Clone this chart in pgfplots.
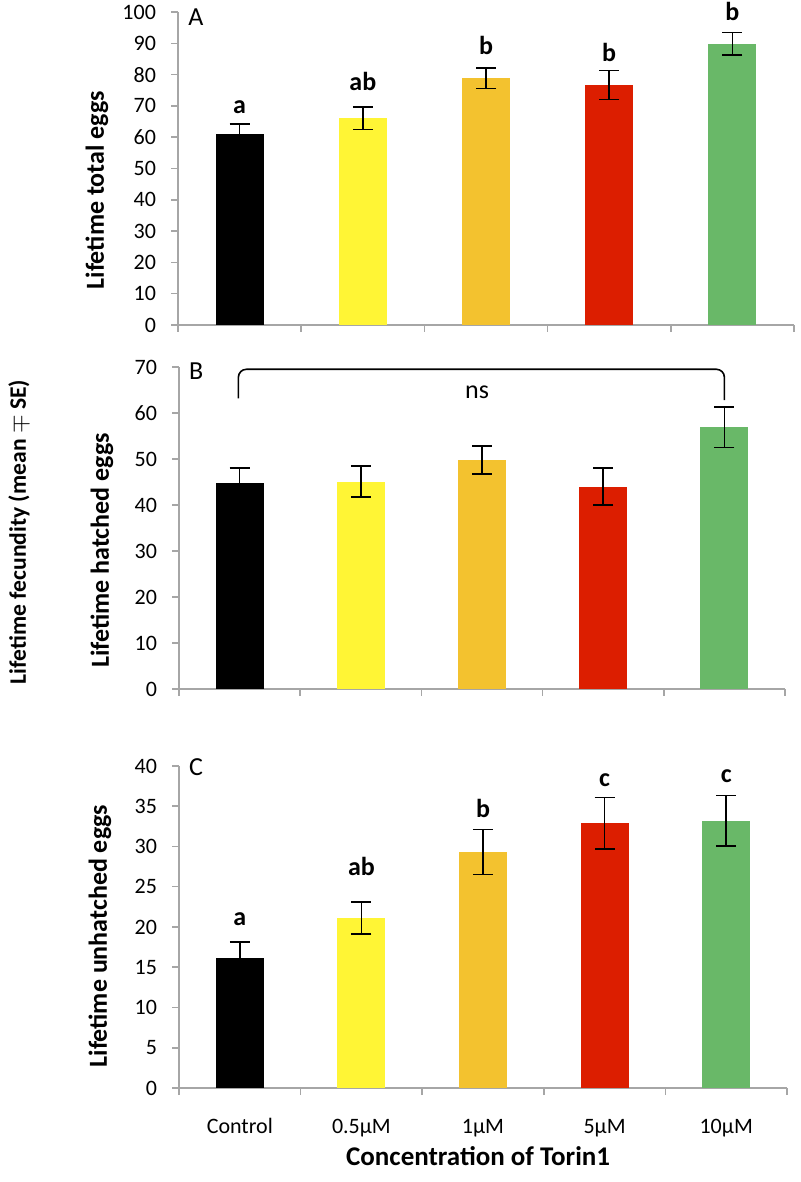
\documentclass[border=0pt]{standalone}
\usepackage{fontspec}
\setmainfont{Carlito}
\usepackage{pgfplots}
\pgfplotsset{compat=1.18}
\definecolor{axgray}{HTML}{A6A6A6}
\definecolor{cblack}{HTML}{000000}
\definecolor{cyellow}{HTML}{FFF535}
\definecolor{cgold}{HTML}{F3C22F}
\definecolor{cred}{HTML}{DC1E00}
\definecolor{cgreen}{HTML}{69B868}
\newcommand{\lab}{\bfseries\fontsize{13}{15}\selectfont}
\newcommand{\reg}{\fontsize{13}{15}\selectfont}
\pgfplotsset{
  panel/.style={
    scale only axis, ybar, bar shift=0pt, bar width=24pt,
    xmin=-0.5, xmax=4.5, ymin=0,
    axis x line=bottom, axis y line=left,
    axis line style={draw=axgray, line width=0.75pt, -},
    tick style={draw=axgray, line width=0.75pt},
    tick align=outside, major tick length=3.5pt,
    xtick={-0.5,0.5,1.5,2.5,3.5,4.5}, xticklabels={,,,,,},
    /pgf/number format/assume math mode=true,
    tick label style={font=\fontsize{11}{13}\selectfont},
    yticklabel style={xshift=-4pt},
    clip=false,
  },
  ylab/.style={every axis y label/.style={at={(axis description cs:#1)}, rotate=90, anchor=center, font=\lab}},
  ebar/.style={draw=none, error bars/.cd, y dir=both, y explicit,
    error bar style={line width=0.8pt, black},
    error mark options={rotate=90, mark size=5pt, line width=0.8pt, black}, /pgfplots/.cd},
}
\begin{document}
\begin{tikzpicture}[x=1pt,y=1pt]
\useasboundingbox (0,0) rectangle (400,591);
% Panel A
\begin{axis}[panel, at={(89pt,428.5pt)}, anchor=south west,
  width=308pt, height=156.5pt, ymax=100, ytick={0,10,...,100},
  ylabel={Lifetime total eggs}, ylab={-0.1315,0.431}]
\addplot[fill=cblack, ebar] coordinates {(0,61.0) +- (0,3.2)};
\addplot[fill=cyellow, ebar] coordinates {(1,66.0) +- (0,3.6)};
\addplot[fill=cgold, ebar] coordinates {(2,78.8) +- (0,3.3)};
\addplot[fill=cred, ebar] coordinates {(3,76.7) +- (0,4.6)};
\addplot[fill=cgreen, ebar] coordinates {(4,89.9) +- (0,3.6)};
\node[anchor=base, font=\lab] at (axis cs:0,67.7) {a};
\node[anchor=base, font=\lab] at (axis cs:1,74.9) {ab};
\node[anchor=base, font=\lab] at (axis cs:2,86.3) {b};
\node[anchor=base, font=\lab] at (axis cs:3,84.1) {b};
\node[anchor=base, font=\lab] at (axis cs:4,97.2) {b};
\node[anchor=base west, font=\reg, inner sep=0pt] at (axis cs:-0.42,95.8) {A};
\end{axis}
% Panel B
\begin{axis}[panel, at={(89.5pt,246.5pt)}, anchor=south west,
  width=303pt, height=161pt, ymax=70, ytick={0,10,...,70},
  ylabel={Lifetime hatched eggs}, ylab={-0.127,0.43}]
\addplot[fill=cblack, ebar] coordinates {(0,44.8) +- (0,3.2)};
\addplot[fill=cyellow, ebar] coordinates {(1,45.1) +- (0,3.4)};
\addplot[fill=cgold, ebar] coordinates {(2,49.8) +- (0,3.0)};
\addplot[fill=cred, ebar] coordinates {(3,44.0) +- (0,4.0)};
\addplot[fill=cgreen, ebar] coordinates {(4,56.9) +- (0,4.4)};
\draw[line width=0.8pt, rounded corners=4pt] (axis cs:-0.01,63.2) -- (axis cs:-0.01,69.5) -- (axis cs:4,69.5) -- (axis cs:4,62.8);
\node[anchor=base, font=\reg] at (axis cs:1.96,63.2) {ns};
\node[anchor=base west, font=\reg, inner sep=0pt] at (axis cs:-0.42,67.2) {B};
\end{axis}
% Panel C
\begin{axis}[panel, at={(89.5pt,47pt)}, anchor=south west,
  width=304pt, height=161pt, ymax=40, ytick={0,5,...,40},
  ylabel={Lifetime unhatched eggs}, ylab={-0.13,0.472},
  extra x ticks={0,1,2,3,4},
  extra x tick labels={Control,0.5µM,1µM,5µM,10µM},
  extra x tick style={tick style={draw=none}, xticklabel style={anchor=base, yshift=-19pt}},
  xlabel={Concentration of Torin1},
  every axis x label/.style={at={(axis description cs:0.492,0)}, anchor=base, yshift=-38.5pt, font=\bfseries\fontsize{13.5}{16}\selectfont}]
\addplot[fill=cblack, ebar] coordinates {(0,16.2) +- (0,1.9)};
\addplot[fill=cyellow, ebar] coordinates {(1,21.1) +- (0,2.0)};
\addplot[fill=cgold, ebar] coordinates {(2,29.3) +- (0,2.8)};
\addplot[fill=cred, ebar] coordinates {(3,32.9) +- (0,3.2)};
\addplot[fill=cgreen, ebar] coordinates {(4,33.2) +- (0,3.15)};
\node[anchor=base, font=\lab] at (axis cs:0,20.2) {a};
\node[anchor=base, font=\lab] at (axis cs:1,26.4) {ab};
\node[anchor=base, font=\lab] at (axis cs:2,33.6) {b};
\node[anchor=base, font=\lab] at (axis cs:3,37.5) {c};
\node[anchor=base, font=\lab] at (axis cs:4,38.0) {c};
\node[anchor=base west, font=\reg, inner sep=0pt] at (axis cs:-0.42,38.8) {C};
\end{axis}
\node[rotate=90, font=\bfseries\fontsize{11.8}{14}\selectfont] at (9.5pt,325pt) {Lifetime fecundity (mean $\mp$ SE)};
\end{tikzpicture}
\end{document}
